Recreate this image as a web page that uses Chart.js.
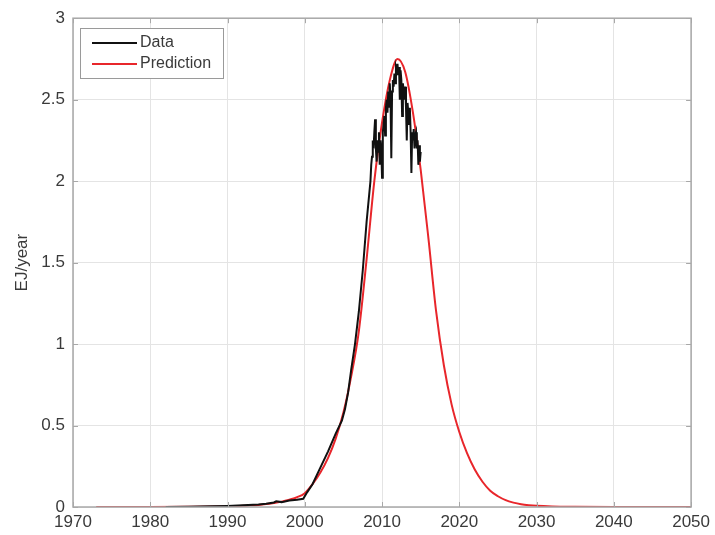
<!DOCTYPE html>
<html>
<head>
<meta charset="utf-8">
<script src="https://cdn.jsdelivr.net/npm/chart.js@4.4.1/dist/chart.umd.min.js"></script>
<style>
  html, body { margin: 0; padding: 0; background: #ffffff; }
  #wrap { width: 715px; height: 535px; }
</style>
</head>
<body>
<div id="wrap"><canvas id="myChart" width="715" height="535"></canvas></div>
<script>
// Prediction curve (year, EJ/year)
const predYears = [1973, 1980, 1985, 1990, 1992, 1993, 1994, 1995, 1996, 1997, 1998, 1999,
    2000, 2001, 2002, 2003, 2004, 2005, 2006, 2007, 2008, 2009, 2010, 2011, 2012,
    2013, 2014, 2015, 2016, 2017, 2018, 2019, 2020, 2021, 2022, 2023, 2024, 2025,
    2026, 2027, 2028, 2029, 2030, 2032, 2035, 2040, 2050];
const predValues = [0, 0, 0.001, 0.004, 0.007, 0.01, 0.013, 0.018, 0.025, 0.033, 0.045, 0.06,
    0.085, 0.14, 0.21, 0.3, 0.42, 0.58, 0.8, 1.08, 1.52, 2.0, 2.36, 2.62, 2.75,
    2.67, 2.42, 2.07, 1.65, 1.2, 0.87, 0.63, 0.46, 0.33, 0.23, 0.155, 0.1, 0.066,
    0.042, 0.027, 0.017, 0.011, 0.007, 0.003, 0.001, 0, 0];

// Observed data (year, EJ/year)
const dataYears = [1982, 1985, 1988, 1990, 1992, 1994, 1995, 1996, 1996.3, 1997, 1998, 1999, 1999.8,
    2000.3, 2001, 2002, 2003, 2004, 2004.8, 2005.2, 2005.6, 2006, 2006.5, 2007, 2007.5, 2008,
    2008.5, 2008.6, 2008.7, 2008.8, 2008.9, 2009.0, 2009.1, 2009.2, 2009.3, 2009.4,
    2009.5, 2009.6, 2009.7, 2009.8, 2009.9, 2010.0, 2010.1, 2010.2, 2010.3, 2010.4,
    2010.5, 2010.6, 2010.7, 2010.8, 2010.9, 2011.0, 2011.1, 2011.2, 2011.3, 2011.4,
    2011.5, 2011.6, 2011.7, 2011.8, 2011.9, 2012.0, 2012.1, 2012.2, 2012.3, 2012.4,
    2012.5, 2012.6, 2012.7, 2012.8, 2012.9, 2013.0, 2013.1, 2013.2, 2013.3, 2013.4,
    2013.5, 2013.6, 2013.7, 2013.8, 2013.9, 2014.0, 2014.1, 2014.2, 2014.3, 2014.4,
    2014.5, 2014.6, 2014.7, 2014.8, 2014.9, 2015.0];
const dataValues = [0, 0.002, 0.004, 0.006, 0.01, 0.015, 0.02, 0.028, 0.035, 0.03, 0.04, 0.045, 0.05,
    0.09, 0.14, 0.24, 0.34, 0.45, 0.53, 0.6, 0.7, 0.84, 1.0, 1.2, 1.45, 1.75,
    2.0, 2.1, 2.15, 2.25, 2.2, 2.3, 2.38, 2.2, 2.12, 2.25,
    2.18, 2.3, 2.1, 2.25, 2.2, 2.02, 2.3, 2.35, 2.4, 2.28,
    2.45, 2.5, 2.42, 2.55, 2.45, 2.6, 2.5, 2.14, 2.55, 2.62,
    2.58, 2.66, 2.6, 2.7, 2.68, 2.72, 2.65, 2.7, 2.5, 2.68,
    2.62, 2.4, 2.6, 2.55, 2.5, 2.58, 2.45, 2.25, 2.48, 2.42,
    2.35, 2.45, 2.3, 2.05, 2.3, 2.25, 2.32, 2.2, 2.28, 2.3,
    2.2, 2.25, 2.1, 2.22, 2.12, 2.18];

const xTicks = [1970, 1980, 1990, 2000, 2010, 2020, 2030, 2040, 2050];
const yTicks = [0, 0.5, 1, 1.5, 2, 2.5, 3];

const FONT = "'Liberation Sans', Arial, Helvetica, sans-serif";
const TEXT = '#3a3a3a';
const AXIS = '#a8a8a8';

function toPoints(xs, ys) {
    return xs.map((x, i) => ({ x: x, y: ys[i] }));
}

// box, inside ticks, y title and legend, MATLAB style
const matlabDecor = {
    id: 'matlabDecor',
    afterDraw(chart) {
        const ctx = chart.ctx;
        const a = chart.chartArea;
        const xs = chart.scales.x, ys = chart.scales.y;
        ctx.save();
        ctx.strokeStyle = AXIS;
        ctx.lineWidth = 1;
        ctx.beginPath();
        xTicks.forEach(v => {
            const px = Math.round(xs.getPixelForValue(v)) + 0.5;
            ctx.moveTo(px, a.bottom); ctx.lineTo(px, a.bottom - 5);
            ctx.moveTo(px, a.top); ctx.lineTo(px, a.top + 5);
        });
        yTicks.forEach(v => {
            const py = Math.round(ys.getPixelForValue(v)) + 0.5;
            ctx.moveTo(a.left, py); ctx.lineTo(a.left + 5, py);
            ctx.moveTo(a.right, py); ctx.lineTo(a.right - 5, py);
        });
        ctx.stroke();
        ctx.lineWidth = 1.5;
        ctx.strokeRect(a.left, a.top, a.right - a.left, a.bottom - a.top);

        // y axis title
        ctx.fillStyle = TEXT;
        ctx.font = '17px ' + FONT;
        ctx.textAlign = 'center';
        ctx.textBaseline = 'middle';
        ctx.translate(22, (a.top + a.bottom) / 2);
        ctx.rotate(-Math.PI / 2);
        ctx.fillText('EJ/year', 0, 0);
        ctx.restore();

        // legend
        ctx.save();
        const lx = 80, ly = 28, lw = 143, lh = 50;
        ctx.fillStyle = '#ffffff';
        ctx.fillRect(lx, ly, lw, lh);
        ctx.strokeStyle = '#9a9a9a';
        ctx.lineWidth = 1;
        ctx.strokeRect(lx + 0.5, ly + 0.5, lw, lh);
        ctx.font = '16px ' + FONT;
        ctx.textAlign = 'left';
        ctx.textBaseline = 'middle';
        chart.data.datasets.forEach((ds, i) => {
            const y = ly + 15 + i * 21;
            ctx.strokeStyle = ds.borderColor;
            ctx.lineWidth = 2;
            ctx.beginPath();
            ctx.moveTo(lx + 12, y); ctx.lineTo(lx + 57, y);
            ctx.stroke();
            ctx.fillStyle = TEXT;
            ctx.fillText(ds.label, lx + 60, y);
        });
        ctx.restore();
    }
};

const config = {
    type: 'line',
    data: {
        datasets: [
            {
                label: 'Data',
                data: toPoints(dataYears, dataValues),
                borderColor: '#111111',
                borderWidth: 2,
                pointRadius: 0,
                tension: 0,
                fill: false
            },
            {
                label: 'Prediction',
                data: toPoints(predYears, predValues),
                borderColor: '#e8262b',
                borderWidth: 2,
                pointRadius: 0,
                cubicInterpolationMode: 'monotone',
                fill: false
            }
        ]
    },
    options: {
        responsive: false,
        animation: false,
        events: [],
        layout: { padding: { top: 17, right: 23, left: 0, bottom: 0 } },
        plugins: {
            legend: { display: false },
            tooltip: { enabled: false }
        },
        scales: {
            x: {
                type: 'linear',
                min: 1970,
                max: 2050,
                afterBuildTicks: s => { s.ticks = xTicks.map(v => ({ value: v })); },
                afterFit: s => { s.height = 28; },
                grid: { color: '#e4e4e4', drawTicks: false },
                border: { display: false },
                ticks: {
                    color: TEXT,
                    padding: 5,
                    maxRotation: 0,
                    autoSkip: false,
                    font: { size: 17, family: FONT },
                    callback: v => String(v)
                }
            },
            y: {
                type: 'linear',
                min: 0,
                max: 3,
                afterBuildTicks: s => { s.ticks = yTicks.map(v => ({ value: v })); },
                afterFit: s => { s.width = 73; },
                grid: { color: '#e4e4e4', drawTicks: false },
                border: { display: false },
                ticks: {
                    color: TEXT,
                    padding: 8,
                    autoSkip: false,
                    font: { size: 17, family: FONT },
                    callback: v => String(v)
                }
            }
        }
    },
    plugins: [matlabDecor]
};

new Chart(document.getElementById('myChart'), config);
</script>
</body>
</html>
